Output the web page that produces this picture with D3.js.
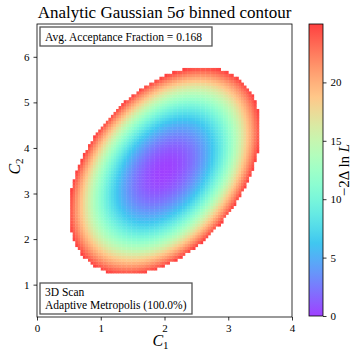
<!DOCTYPE html>
<html>
<head>
<meta charset="utf-8">
<script src="https://cdn.jsdelivr.net/npm/d3@7"></script>
<style>
  body { margin: 0; background: #fff; }
  text { font-family: "Liberation Serif", serif; fill: #000; }
</style>
</head>
<body>
<div class="chart"></div>
<script>
// model parameters
var mean = [2.0, 3.5];
var sigma = [0.3, 0.455];
var rho = 0.4;
var cut = 25;           // 5 sigma, -2 dlnL
var nBins = [100, 100];
var xRange = [0, 4];
var yRange = [0.29, 6.72];
var xTicks = [0, 1, 2, 3, 4];
var yTicks = [1, 2, 3, 4, 5, 6];
var cTicks = [0, 5, 10, 15, 20];
var title = "Analytic Gaussian 5\u03c3 binned contour";
var accText = "Avg. Acceptance Fraction = 0.168";
var scanText = ["3D Scan", "Adaptive Metropolis (100.0%)"];

var width = 358, height = 350;
var mLeft = 37, mRight = 292, mTop = 24, mBottom = 317;
var serif = "Liberation Serif, serif";

var svg = d3.select(".chart").append("svg")
    .attr("width", width)
    .attr("height", height);

var x = d3.scaleLinear().domain(xRange).range([mLeft, mRight]);
var y = d3.scaleLinear().domain(yRange).range([mBottom, mTop]);

// matplotlib "rainbow" with alpha 0.75 on white
var alpha = 0.75;
function rainbow(t) {
    var r = Math.min(1, Math.abs(2 * t - 0.5));
    var g = Math.sin(Math.PI * t);
    var b = Math.cos(Math.PI * t / 2);
    function mix(c) { return Math.round(255 * (alpha * c + 1 - alpha)); }
    return "rgb(" + mix(r) + "," + mix(g) + "," + mix(b) + ")";
}
var color = d3.scaleSequential(rainbow).domain([0, cut]);

// binned -2 dlnL
var cells = [];
var dx = (xRange[1] - xRange[0]) / nBins[0];
var dy = (yRange[1] - yRange[0]) / nBins[1];
for (var i = 0; i < nBins[0]; i++) {
    for (var j = 0; j < nBins[1]; j++) {
        var cx = xRange[0] + (i + 0.5) * dx;
        var cy = yRange[0] + (j + 0.5) * dy;
        var u = (cx - mean[0]) / sigma[0];
        var v = (cy - mean[1]) / sigma[1];
        var val = (u * u - 2 * rho * u * v + v * v) / (1 - rho * rho);
        if (val <= cut) cells.push({x0: cx - dx / 2, x1: cx + dx / 2, y0: cy - dy / 2, y1: cy + dy / 2, v: val});
    }
}

svg.append("g").selectAll("rect")
    .data(cells)
    .enter().append("rect")
    .attr("x", function(d) { return x(d.x0); })
    .attr("y", function(d) { return y(d.y1); })
    .attr("width", function(d) { return x(d.x1) - x(d.x0) + 0.4; })
    .attr("height", function(d) { return y(d.y0) - y(d.y1) + 0.4; })
    .attr("fill", function(d) { return color(d.v); });

// axes
var xAxis = svg.append("g")
    .attr("transform", "translate(0," + mBottom + ")")
    .call(d3.axisBottom(x).tickValues(xTicks).tickSize(3.5).tickPadding(4).tickFormat(d3.format("d")));
var yAxis = svg.append("g")
    .attr("transform", "translate(" + mLeft + ",0)")
    .call(d3.axisLeft(y).tickValues(yTicks).tickSize(3.5).tickPadding(4).tickFormat(d3.format("d")));
[xAxis, yAxis].forEach(function(a) {
    a.select(".domain").remove();
    a.selectAll("text").style("font-family", serif).style("font-size", "11px");
    a.selectAll("line").attr("stroke", "#000").attr("stroke-width", 0.8);
});

svg.append("rect")
    .attr("x", mLeft).attr("y", mTop)
    .attr("width", mRight - mLeft).attr("height", mBottom - mTop)
    .attr("fill", "none").attr("stroke", "#000").attr("stroke-width", 0.8);

svg.append("text")
    .attr("x", (mLeft + mRight) / 2).attr("y", 18)
    .attr("text-anchor", "middle")
    .style("font-size", "17px")
    .text(title);

svg.append("text")
    .attr("x", (mLeft + mRight) / 2 - 4).attr("y", 346)
    .attr("text-anchor", "middle")
    .style("font-size", "16px").style("font-style", "italic")
    .html("C<tspan dy='3' font-size='11px' font-style='normal'>1</tspan>");

svg.append("text")
    .attr("transform", "translate(20," + ((mTop + mBottom) / 2 - 4) + ") rotate(-90)")
    .attr("text-anchor", "middle")
    .style("font-size", "16px").style("font-style", "italic")
    .html("C<tspan dy='3' font-size='11px' font-style='normal'>2</tspan>");

// legend boxes
function box(x0, y0, w, h) {
    svg.append("rect")
        .attr("x", x0).attr("y", y0).attr("width", w).attr("height", h)
        .attr("fill", "#fff").attr("stroke", "#555").attr("stroke-width", 1.3);
}
box(40, 27, 172, 19);
svg.append("text").attr("x", 45).attr("y", 40.5)
    .style("font-size", "11.5px").text(accText);

box(40, 283, 152, 31);
svg.selectAll(".scan").data(scanText).enter().append("text")
    .attr("x", 45).attr("y", function(d, k) { return 296 + k * 12.5; })
    .style("font-size", "11.5px").text(function(d) { return d; });

// colorbar
var cbX = 309, cbW = 14, cbTop = 24, cbBottom = 316;
var cScale = d3.scaleLinear().domain([0, cut]).range([cbBottom, cbTop]);
var grad = svg.append("defs").append("linearGradient")
    .attr("id", "cb").attr("x1", 0).attr("y1", 1).attr("x2", 0).attr("y2", 0);
grad.selectAll("stop").data(d3.range(0, 1.0001, 0.05)).enter().append("stop")
    .attr("offset", function(d) { return d; })
    .attr("stop-color", function(d) { return color(d * cut); });
svg.append("rect")
    .attr("x", cbX).attr("y", cbTop).attr("width", cbW).attr("height", cbBottom - cbTop)
    .attr("fill", "url(#cb)").attr("stroke", "#000").attr("stroke-width", 0.8);
var cAxis = svg.append("g")
    .attr("transform", "translate(" + (cbX + cbW) + ",0)")
    .call(d3.axisRight(cScale).tickValues(cTicks).tickSize(3.5).tickPadding(4).tickFormat(d3.format("d")));
cAxis.select(".domain").remove();
cAxis.selectAll("text").style("font-family", serif).style("font-size", "11px");
cAxis.selectAll("line").attr("stroke", "#000").attr("stroke-width", 0.8);

svg.append("text")
    .attr("transform", "translate(349," + ((cbTop + cbBottom) / 2) + ") rotate(-90)")
    .attr("text-anchor", "middle")
    .style("font-size", "15px")
    .html("\u22122\u0394 ln <tspan font-style='italic'>L</tspan>");
</script>
</body>
</html>
